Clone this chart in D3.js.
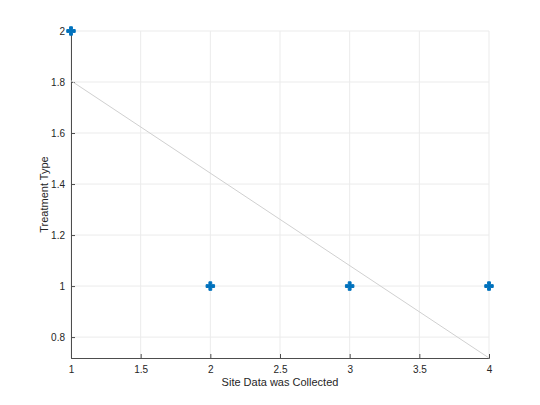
<!DOCTYPE html>
<html><head><meta charset="utf-8">
<script src="https://cdn.jsdelivr.net/npm/d3@7"></script>
<style>body{margin:0;background:#fff}text{font-family:"Liberation Sans",Arial,sans-serif}</style>
</head><body><svg id="c" width="540" height="405"></svg>
<script>
const siteX = [1, 2, 3, 4];
const treatmentY = [2, 1, 1, 1];
const fitX = [1, 4];
const fitY = [1.805, 0.718];
const xTicks = [1, 1.5, 2, 2.5, 3, 3.5, 4];
const yTicks = [0.8, 1, 1.2, 1.4, 1.6, 1.8, 2];

const svg = d3.select("#c");
const L = 71, R = 489, T = 31, B = 358;
const x = d3.scaleLinear().domain([1, 4]).range([L, R]);
const y = d3.scaleLinear().domain([0.718, 2]).range([B, T]);

const g = svg.append("g");
g.selectAll(".gx").data(xTicks).join("line").attr("x1", d => x(d)).attr("x2", d => x(d))
  .attr("y1", T).attr("y2", B).attr("stroke", "#ebebeb");
g.selectAll(".gy").data(yTicks).join("line").attr("y1", d => y(d)).attr("y2", d => y(d))
  .attr("x1", L).attr("x2", R).attr("stroke", "#ebebeb");

const xa = svg.append("g").attr("transform", `translate(0,${B})`)
  .call(d3.axisBottom(x).tickValues(xTicks).tickSize(-4).tickPadding(8).tickFormat(d3.format("")));
const ya = svg.append("g").attr("transform", `translate(${L},0)`)
  .call(d3.axisLeft(y).tickValues(yTicks).tickSize(-4).tickPadding(6).tickFormat(d3.format("")));
[xa, ya].forEach(a => {
  a.select(".domain").attr("stroke", "#4d4d4d");
  a.selectAll(".tick line").attr("stroke", "#4d4d4d");
  a.selectAll("text").attr("fill", "#262626").attr("font-size", 10);
});

svg.append("path").datum(fitX.map((d, i) => [d, fitY[i]]))
  .attr("d", d3.line().x(d => x(d[0])).y(d => y(d[1])))
  .attr("stroke", "#d0d0d0").attr("fill", "none").attr("stroke-width", 1);

svg.selectAll(".pt").data(siteX.map((d, i) => [d, treatmentY[i]])).join("path")
  .attr("d", d3.symbol(d3.symbolCross, 40))
  .attr("transform", d => `translate(${x(d[0])},${y(d[1])})`)
  .attr("fill", "#0072BD").attr("stroke", "#0072BD").attr("stroke-width", 1);

svg.append("text").attr("x", (L + R) / 2).attr("y", 386).attr("text-anchor", "middle")
  .attr("font-size", 11).attr("fill", "#262626").text("Site Data was Collected");
svg.append("text").attr("transform", `translate(48,${(T + B) / 2}) rotate(-90)`)
  .attr("text-anchor", "middle").attr("font-size", 11).attr("fill", "#262626").text("Treatment Type");
</script></body></html>
